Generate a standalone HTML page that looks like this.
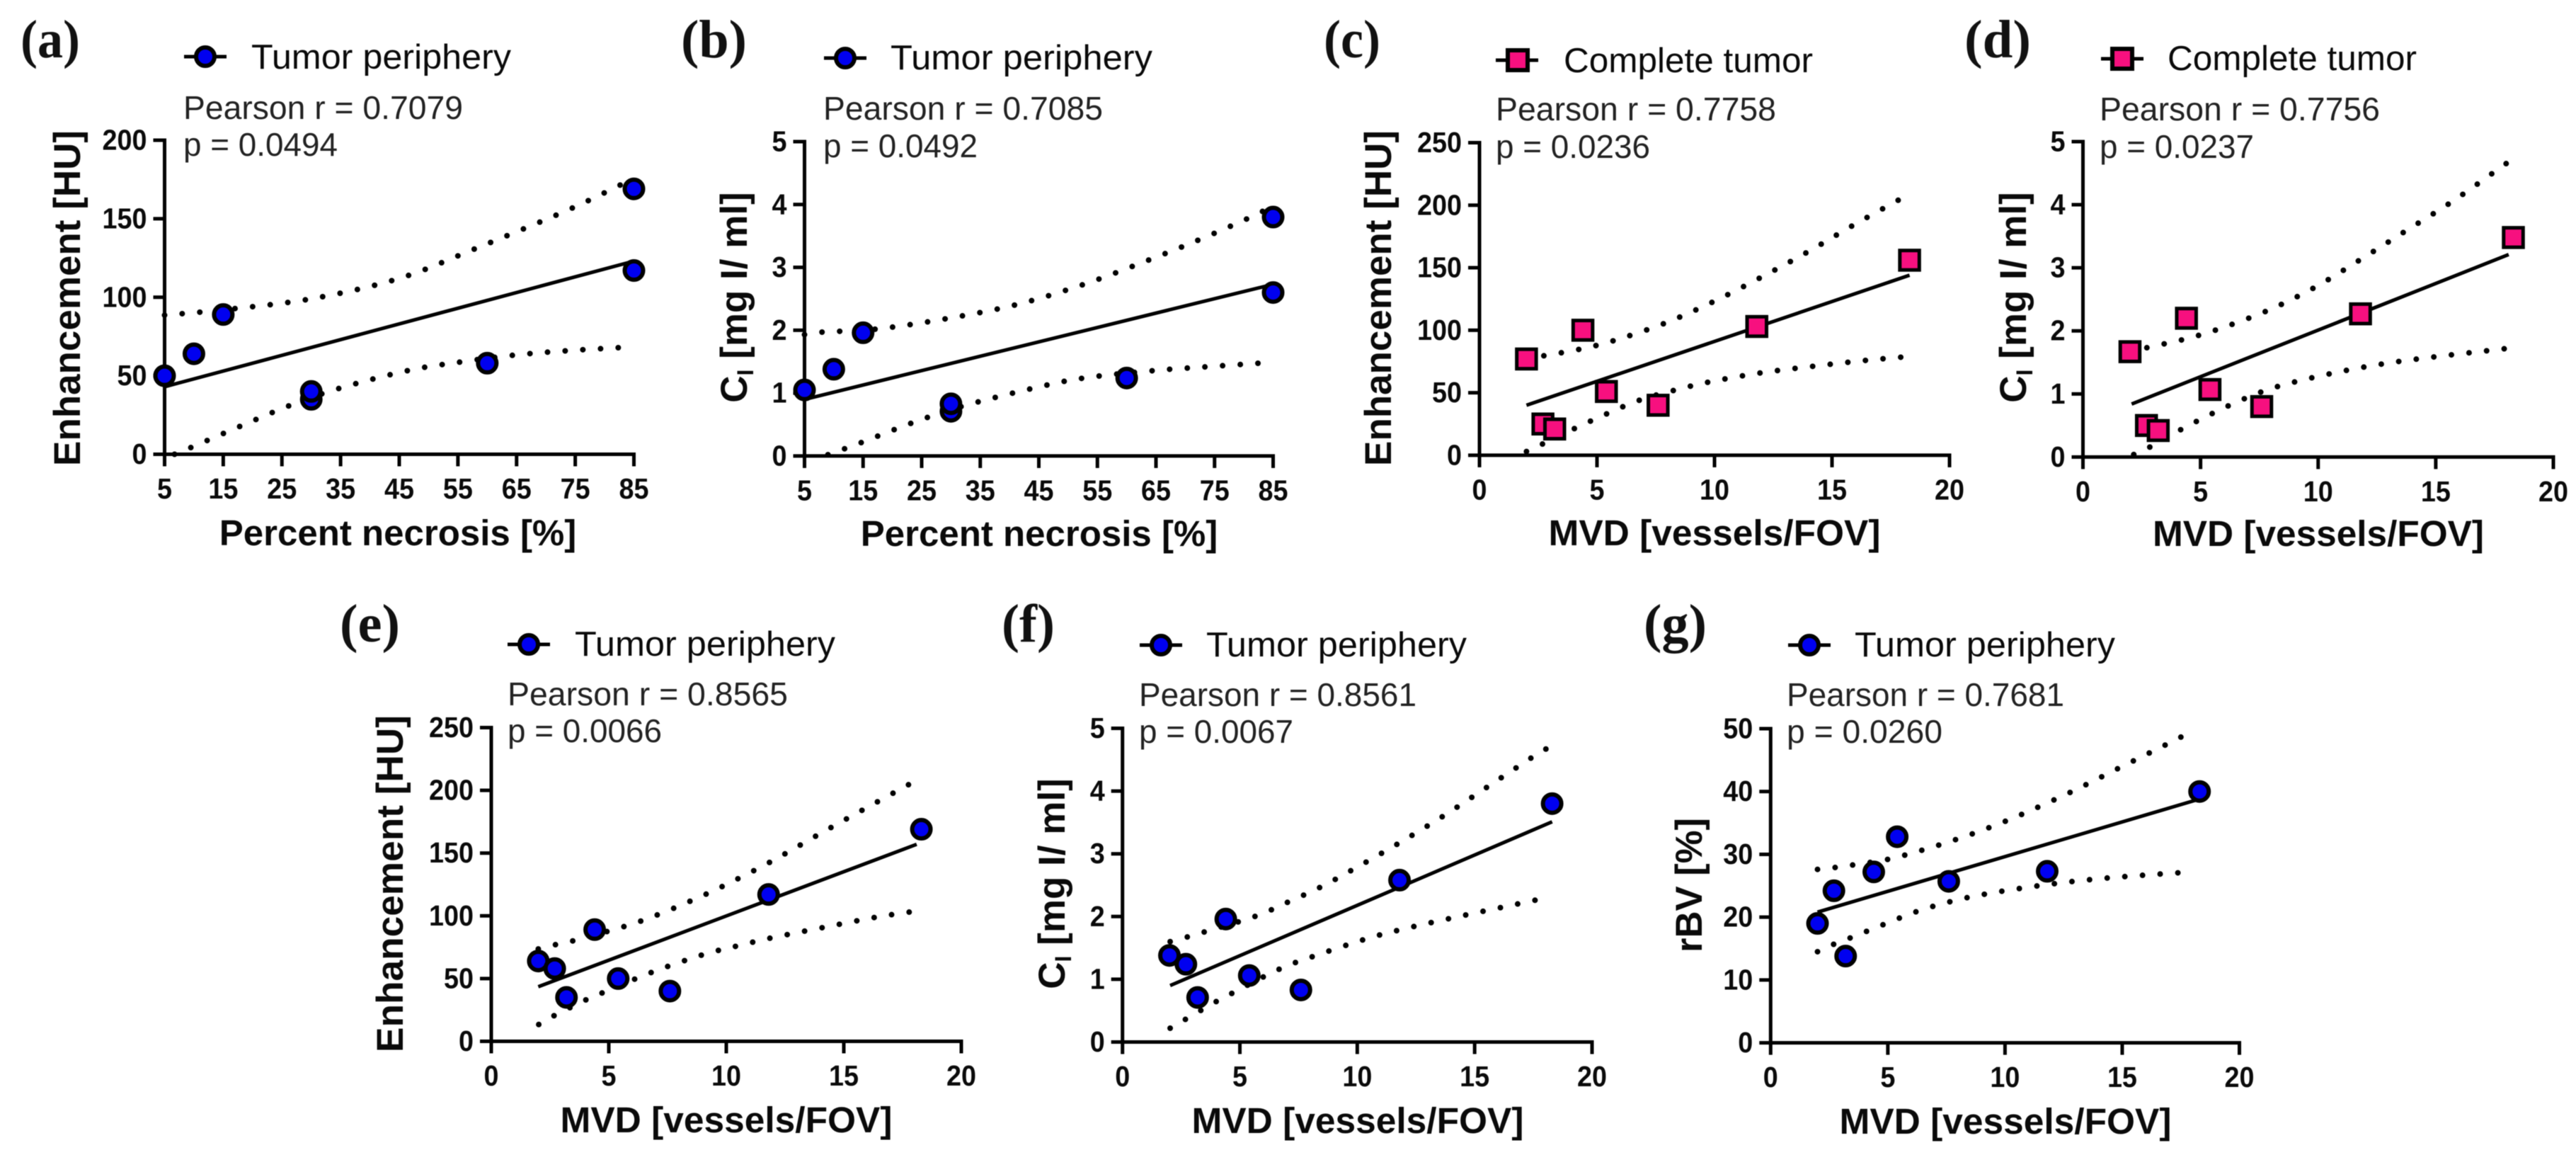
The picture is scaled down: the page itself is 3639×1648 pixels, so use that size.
<!DOCTYPE html>
<html lang="en">
<head>
<meta charset="utf-8">
<title>Correlation scatter plots of enhancement, iodine concentration and rBV</title>
<style>
html,body{margin:0;padding:0;background:#fff;width:3639px;height:1648px;overflow:hidden}
svg{display:block;filter:blur(0.6px)}
text{font-family:"Liberation Sans",sans-serif;fill:#0a0a0a}
.letter{font-family:"Liberation Serif",serif;font-weight:700;font-size:76px;fill:#111}
.legend{font-size:49px}
.stat{font-size:46px;fill:#222}
.xtitle{font-size:51px;font-weight:700;text-anchor:middle}
.ytitle{font-size:53px;font-weight:700;text-anchor:middle}
.tick{font-size:41px;font-weight:700}
</style>
</head>
<body>
<svg id="figure" xmlns="http://www.w3.org/2000/svg" width="3639" height="1648" viewBox="0 0 3639 1648">
<rect x="0" y="0" width="3639" height="1648" fill="#fff"/>

<g id="panel-a">
<text class="letter" x="29" y="81" textLength="84" lengthAdjust="spacingAndGlyphs">(a)</text>
<line x1="260" y1="80" x2="320" y2="80" stroke="#000" stroke-width="5"/>
<circle cx="290" cy="80" r="13" fill="#0000f0" stroke="#000" stroke-width="6"/>
<text class="legend" x="355" y="97" textLength="367" lengthAdjust="spacingAndGlyphs">Tumor periphery</text>
<text class="stat" x="259" y="168" textLength="395" lengthAdjust="spacingAndGlyphs">Pearson r = 0.7079</text>
<text class="stat" x="259" y="220" textLength="218" lengthAdjust="spacingAndGlyphs">p = 0.0494</text>
<text class="xtitle" x="562" y="770">Percent necrosis [%]</text>
<text class="ytitle" transform="translate(113 421) rotate(-90)" textLength="474" lengthAdjust="spacingAndGlyphs">Enhancement [HU]</text>
</g>

<g id="panel-b">
<text class="letter" x="962" y="81" textLength="93" lengthAdjust="spacingAndGlyphs">(b)</text>
<line x1="1164" y1="82" x2="1224" y2="82" stroke="#000" stroke-width="5"/>
<circle cx="1194" cy="82" r="13" fill="#0000f0" stroke="#000" stroke-width="6"/>
<text class="legend" x="1258" y="98" textLength="370" lengthAdjust="spacingAndGlyphs">Tumor periphery</text>
<text class="stat" x="1163" y="169" textLength="395" lengthAdjust="spacingAndGlyphs">Pearson r = 0.7085</text>
<text class="stat" x="1163" y="222" textLength="218" lengthAdjust="spacingAndGlyphs">p = 0.0492</text>
<text class="xtitle" x="1468" y="771">Percent necrosis [%]</text>
<text class="ytitle" transform="translate(1055 420) rotate(-90)">C<tspan font-size="32" dy="9">I</tspan><tspan dy="-9"> [mg I/ ml]</tspan></text>
</g>

<g id="panel-c">
<text class="letter" x="1870" y="81" textLength="80" lengthAdjust="spacingAndGlyphs">(c)</text>
<line x1="2113" y1="85" x2="2173" y2="85" stroke="#000" stroke-width="5"/>
<rect x="2130" y="71" width="28" height="28" fill="#f7107f" stroke="#000" stroke-width="6"/>
<text class="legend" x="2209" y="102" textLength="352" lengthAdjust="spacingAndGlyphs">Complete tumor</text>
<text class="stat" x="2113" y="170" textLength="396" lengthAdjust="spacingAndGlyphs">Pearson r = 0.7758</text>
<text class="stat" x="2113" y="223" textLength="218" lengthAdjust="spacingAndGlyphs">p = 0.0236</text>
<text class="xtitle" x="2422" y="770" textLength="469" lengthAdjust="spacingAndGlyphs">MVD [vessels/FOV]</text>
<text class="ytitle" transform="translate(1965 421) rotate(-90)" textLength="474" lengthAdjust="spacingAndGlyphs">Enhancement [HU]</text>
</g>

<g id="panel-d">
<text class="letter" x="2775" y="81" textLength="94" lengthAdjust="spacingAndGlyphs">(d)</text>
<line x1="2968" y1="83" x2="3028" y2="83" stroke="#000" stroke-width="5"/>
<rect x="2984" y="69" width="28" height="28" fill="#f7107f" stroke="#000" stroke-width="6"/>
<text class="legend" x="3062" y="99" textLength="352" lengthAdjust="spacingAndGlyphs">Complete tumor</text>
<text class="stat" x="2966" y="170" textLength="396" lengthAdjust="spacingAndGlyphs">Pearson r = 0.7756</text>
<text class="stat" x="2966" y="223" textLength="218" lengthAdjust="spacingAndGlyphs">p = 0.0237</text>
<text class="xtitle" x="3275" y="771" textLength="468" lengthAdjust="spacingAndGlyphs">MVD [vessels/FOV]</text>
<text class="ytitle" transform="translate(2862 420) rotate(-90)">C<tspan font-size="32" dy="9">I</tspan><tspan dy="-9"> [mg I/ ml]</tspan></text>
</g>

<g id="panel-e">
<text class="letter" x="480" y="906" textLength="85" lengthAdjust="spacingAndGlyphs">(e)</text>
<line x1="717" y1="910" x2="777" y2="910" stroke="#000" stroke-width="5"/>
<circle cx="747" cy="910" r="13" fill="#0000f0" stroke="#000" stroke-width="6"/>
<text class="legend" x="812" y="926" textLength="368" lengthAdjust="spacingAndGlyphs">Tumor periphery</text>
<text class="stat" x="717" y="996" textLength="396" lengthAdjust="spacingAndGlyphs">Pearson r = 0.8565</text>
<text class="stat" x="717" y="1048" textLength="218" lengthAdjust="spacingAndGlyphs">p = 0.0066</text>
<text class="xtitle" x="1026" y="1599" textLength="469" lengthAdjust="spacingAndGlyphs">MVD [vessels/FOV]</text>
<text class="ytitle" transform="translate(569 1248) rotate(-90)" textLength="476" lengthAdjust="spacingAndGlyphs">Enhancement [HU]</text>
</g>

<g id="panel-f">
<text class="letter" x="1415" y="906" textLength="75" lengthAdjust="spacingAndGlyphs">(f)</text>
<line x1="1610" y1="911" x2="1670" y2="911" stroke="#000" stroke-width="5"/>
<circle cx="1640" cy="911" r="13" fill="#0000f0" stroke="#000" stroke-width="6"/>
<text class="legend" x="1704" y="927" textLength="368" lengthAdjust="spacingAndGlyphs">Tumor periphery</text>
<text class="stat" x="1609" y="997" textLength="392" lengthAdjust="spacingAndGlyphs">Pearson r = 0.8561</text>
<text class="stat" x="1609" y="1049" textLength="218" lengthAdjust="spacingAndGlyphs">p = 0.0067</text>
<text class="xtitle" x="1918" y="1600" textLength="469" lengthAdjust="spacingAndGlyphs">MVD [vessels/FOV]</text>
<text class="ytitle" transform="translate(1504 1248) rotate(-90)">C<tspan font-size="32" dy="9">I</tspan><tspan dy="-9"> [mg I/ ml]</tspan></text>
</g>

<g id="panel-g">
<text class="letter" x="2322" y="906" textLength="89" lengthAdjust="spacingAndGlyphs">(g)</text>
<line x1="2526" y1="911" x2="2586" y2="911" stroke="#000" stroke-width="5"/>
<circle cx="2556" cy="911" r="13" fill="#0000f0" stroke="#000" stroke-width="6"/>
<text class="legend" x="2620" y="927" textLength="368" lengthAdjust="spacingAndGlyphs">Tumor periphery</text>
<text class="stat" x="2524" y="997" textLength="392" lengthAdjust="spacingAndGlyphs">Pearson r = 0.7681</text>
<text class="stat" x="2524" y="1049" textLength="220" lengthAdjust="spacingAndGlyphs">p = 0.0260</text>
<text class="xtitle" x="2833" y="1601" textLength="469" lengthAdjust="spacingAndGlyphs">MVD [vessels/FOV]</text>
<text class="ytitle" transform="translate(2404 1250) rotate(-90)" textLength="190" lengthAdjust="spacingAndGlyphs">rBV [%]</text>
</g>
</svg>

<script>
// Shared categories and tick labels
var necrosisValues = [5, 10, 15, 30, 30, 60, 85, 85];
var mvdValues = [2, 2.7, 3.2, 4.4, 5.4, 7.6, 11.8, 18.3];
var necrosisTicks = [5, 15, 25, 35, 45, 55, 65, 75, 85];
var mvdTicks = [0, 5, 10, 15, 20];
var enhancement200Ticks = [0, 50, 100, 150, 200];
var enhancement250Ticks = [0, 50, 100, 150, 200, 250];
var iodineTicks = [0, 1, 2, 3, 4, 5];
var rbvTicks = [0, 10, 20, 30, 40, 50];

// Panel (a)
var aPoints = [50, 64, 89, 35, 40, 58, 169, 117];
var aFitX = [5, 85];
var aFitY = [43, 123];
var aUpperX = [5, 15, 30, 45, 58, 72.5, 80.8, 85];
var aUpperY = [88.6, 92, 99, 112, 131, 153.5, 168, 176];
var aLowerX = [6.7, 9.3, 17.8, 26.3, 34.8, 46.6, 55.9, 65, 73.9, 82.9, 85];
var aLowerY = [0, 4, 17.7, 31, 42, 53.4, 59, 63.3, 66, 68, 68.5];

// Panel (b)
var bPoints = [1.05, 1.38, 1.96, 0.71, 0.83, 1.24, 3.8, 2.6];
var bFitX = [5, 85];
var bFitY = [0.9, 2.73];
var bUpperX = [5, 8, 17.4, 29.3, 41.3, 53, 64.4, 72.9, 81.2, 85];
var bUpperY = [1.93, 1.97, 2.02, 2.185, 2.41, 2.74, 3.14, 3.46, 3.8, 3.98];
var bLowerX = [9, 14.6, 23.2, 31.9, 43.7, 52.7, 64.9, 73.9, 83.3, 85];
var bLowerY = [0.02, 0.21, 0.52, 0.79, 1.07, 1.24, 1.36, 1.42, 1.48, 1.49];

// Panel (c)
var cPoints = [77, 25, 21, 100, 51, 40, 103, 156];
var cFitX = [2, 18.3];
var cFitY = [40, 144];
var cUpperX = [2, 2.72, 4.24, 5.7, 7.87, 9.95, 12, 14, 16, 18.3];
var cUpperY = [77, 79.5, 84.7, 91.6, 105.5, 122.8, 142.5, 163, 185, 209];
var cLowerX = [2, 2.65, 4, 5.4, 6.8, 8.3, 9.8, 12, 14.3, 16.5, 18.3];
var cLowerY = [3, 8.7, 21, 33, 44, 52, 58.7, 66, 71.4, 76, 79];

// Panel (d)
var dPoints = [1.67, 0.5, 0.42, 2.2, 1.07, 0.8, 2.27, 3.48];
var dFitX = [2.07, 18.1];
var dFitY = [0.84, 3.21];
var dUpperX = [2, 2.74, 4.23, 5.7, 7.84, 9.86, 11.84, 13.75, 15.7, 17.57, 18.1];
var dUpperY = [1.65, 1.735, 1.86, 2.02, 2.32, 2.69, 3.14, 3.59, 4.05, 4.54, 4.68];
var dLowerX = [2.16, 2.83, 4.14, 5.5, 6.9, 8.3, 10.5, 12.8, 15, 17.3, 18];
var dLowerY = [0.04, 0.155, 0.43, 0.69, 0.93, 1.12, 1.32, 1.48, 1.59, 1.69, 1.72];

// Panel (e)
var ePoints = [64, 58, 35, 89, 50, 40, 117, 169];
var eFitX = [2, 18.1];
var eFitY = [43.5, 157];
var eUpperX = [2, 2.73, 3.46, 5.66, 7.1, 8.5, 9.9, 11.94, 13.9, 15.9, 17.9];
var eUpperY = [73.6, 77, 80, 91.5, 101, 112, 124, 143.6, 164.5, 185.4, 206];
var eLowerX = [2.02, 2.63, 4, 4.7, 6.83, 9, 10.47, 11.94, 14.2, 16.4, 17.94];
var eLowerY = [13.4, 20, 32.8, 38.4, 55, 69, 76, 82.5, 91, 99, 103.4];

// Panel (f)
var fPoints = [1.38, 1.24, 0.71, 1.96, 1.06, 0.83, 2.58, 3.8];
var fFitX = [2.03, 18.3];
var fFitY = [0.9, 3.51];
var fUpperX = [2.03, 2.72, 3.45, 5.63, 7.05, 8.44, 9.77, 11.73, 13.7, 15.6, 17.5, 18.18];
var fUpperY = [1.6, 1.67, 1.75, 2, 2.23, 2.47, 2.74, 3.16, 3.61, 4.08, 4.55, 4.7];
var fLowerX = [2.03, 2.63, 3.97, 4.63, 6.67, 8.09, 10.26, 11.73, 13.95, 16.2, 17.7];
var fLowerY = [0.22, 0.35, 0.64, 0.77, 1.16, 1.36, 1.63, 1.78, 1.97, 2.15, 2.27];

// Panel (g)
var gPoints = [19, 24.2, 13.8, 27.2, 32.8, 25.7, 27.3, 40];
var gFitX = [2, 18.3];
var gFitY = [20.8, 38.8];
var gUpperX = [2, 2.74, 3.5, 5, 6.5, 7.94, 9.36, 10.8, 12.86, 14.9, 17, 17.68];
var gUpperY = [27.6, 27.9, 28.3, 29.2, 30.7, 32.4, 34.3, 36.5, 40, 43.8, 47.7, 49];
var gLowerX = [2, 2.7, 3.4, 4.8, 6.24, 7.7, 9.2, 11.44, 13.7, 16, 17.56];
var gLowerY = [14.5, 15.7, 16.7, 18.8, 20.9, 22.5, 23.7, 25, 26, 26.7, 27.1];

var SVG_NS = 'http://www.w3.org/2000/svg';

function make(tag, attrs) {
  var node = document.createElementNS(SVG_NS, tag);
  for (var key in attrs) { node.setAttribute(key, attrs[key]); }
  return node;
}

function linearAxis(domain, range) {
  var d0 = domain[0], d1 = domain[domain.length - 1];
  return function (v) { return range[0] + (v - d0) / (d1 - d0) * (range[1] - range[0]); };
}

function smoothPath(pts) {
  var d = 'M' + pts[0][0] + ' ' + pts[0][1];
  for (var i = 0; i < pts.length - 1; i++) {
    var p0 = pts[Math.max(i - 1, 0)], p1 = pts[i], p2 = pts[i + 1], p3 = pts[Math.min(i + 2, pts.length - 1)];
    var c1x = p1[0] + (p2[0] - p0[0]) / 6, c1y = p1[1] + (p2[1] - p0[1]) / 6;
    var c2x = p2[0] - (p3[0] - p1[0]) / 6, c2y = p2[1] - (p3[1] - p1[1]) / 6;
    d += 'C' + c1x + ' ' + c1y + ' ' + c2x + ' ' + c2y + ' ' + p2[0] + ' ' + p2[1];
  }
  return d;
}

function zipPoints(xs, ys, sx, sy) {
  return xs.map(function (x, i) { return [sx(x), sy(ys[i])]; });
}

function drawPanel(id, box, xTicks, yTicks, xs, ys, fitX, fitY, upX, upY, loX, loY, square) {
  var g = document.getElementById('panel-' + id);
  var sx = linearAxis(xTicks, [box.x0, box.x1]);
  var sy = linearAxis(yTicks, [box.y0, box.y1]);

  var fit = make('line', { x1: sx(fitX[0]), y1: sy(fitY[0]), x2: sx(fitX[1]), y2: sy(fitY[1]), stroke: '#000', 'stroke-width': 5 });
  
  
  g.appendChild(fit);

  var bandStyle = { fill: 'none', stroke: '#000', 'stroke-width': 8, 'stroke-linecap': 'round', 'stroke-dasharray': '0 25' };
  bandStyle.d = smoothPath(zipPoints(upX, upY, sx, sy));
  var upper = make('path', bandStyle);
  
  
  g.appendChild(upper);

  bandStyle.d = smoothPath(zipPoints(loX, loY, sx, sy));
  var lower = make('path', bandStyle);
  
  
  g.appendChild(lower);

  var yAxis = make('line', { x1: box.x0, y1: box.y1 - 2.5, x2: box.x0, y2: box.y0 + 2.5, stroke: '#000', 'stroke-width': 5 });
  
  
  g.appendChild(yAxis);

  var xAxis = make('line', { x1: box.x0 - 2.5, y1: box.y0, x2: box.x1 + 2.5, y2: box.y0, stroke: '#000', 'stroke-width': 5 });
  
  
  g.appendChild(xAxis);

  yTicks.forEach(function (t) {
    var y = sy(t);
    var tick = make('line', { x1: box.x0 - 16, y1: y, x2: box.x0, y2: y, stroke: '#000', 'stroke-width': 5 });
    
    
    g.appendChild(tick);
    var label = make('text', { class: 'tick', x: box.x0 - 25, y: y + 13.5, 'text-anchor': 'end', textLength: String(t).length * 21, lengthAdjust: 'spacingAndGlyphs' });
    
    
    label.textContent = t;
    g.appendChild(label);
  });

  xTicks.forEach(function (t) {
    var x = sx(t);
    var tick = make('line', { x1: x, y1: box.y0, x2: x, y2: box.y0 + 17, stroke: '#000', 'stroke-width': 5 });
    
    
    g.appendChild(tick);
    var label = make('text', { class: 'tick', x: x, y: box.y0 + 62.5, 'text-anchor': 'middle', textLength: String(t).length * 21, lengthAdjust: 'spacingAndGlyphs' });
    
    
    label.textContent = t;
    g.appendChild(label);
  });

  xs.forEach(function (x, i) {
    var mark;
    if (square) {
      mark = make('rect', { x: sx(x) - 13.75, y: sy(ys[i]) - 13.75, width: 27.5, height: 27.5, fill: '#f7107f', stroke: '#000', 'stroke-width': 5 });
    } else {
      mark = make('circle', { cx: sx(x), cy: sy(ys[i]), r: 13, fill: '#0000f0', stroke: '#000', 'stroke-width': 6 });
    }
    
    
    g.appendChild(mark);
  });
}

drawPanel('a', { x0: 232.5, x1: 895.5, y0: 641.5, y1: 198 }, necrosisTicks, enhancement200Ticks, necrosisValues, aPoints, aFitX, aFitY, aUpperX, aUpperY, aLowerX, aLowerY, false);
drawPanel('b', { x0: 1136.5, x1: 1798.5, y0: 643.9, y1: 200 }, necrosisTicks, iodineTicks, necrosisValues, bPoints, bFitX, bFitY, bUpperX, bUpperY, bLowerX, bLowerY, false);
drawPanel('c', { x0: 2090, x1: 2754, y0: 642.9, y1: 201.5 }, mvdTicks, enhancement250Ticks, mvdValues, cPoints, cFitX, cFitY, cUpperX, cUpperY, cLowerX, cLowerY, true);
drawPanel('d', { x0: 2942.5, x1: 3607, y0: 645.4, y1: 200 }, mvdTicks, iodineTicks, mvdValues, dPoints, dFitX, dFitY, dUpperX, dUpperY, dLowerX, dLowerY, true);
drawPanel('e', { x0: 694, x1: 1358, y0: 1470.5, y1: 1027.5 }, mvdTicks, enhancement250Ticks, mvdValues, ePoints, eFitX, eFitY, eUpperX, eUpperY, eLowerX, eLowerY, false);
drawPanel('f', { x0: 1585.7, x1: 2249, y0: 1471.5, y1: 1028.5 }, mvdTicks, iodineTicks, mvdValues, fPoints, fFitX, fFitY, fUpperX, fUpperY, fLowerX, fLowerY, false);
drawPanel('g', { x0: 2501.3, x1: 3163.5, y0: 1472.6, y1: 1029 }, mvdTicks, rbvTicks, mvdValues, gPoints, gFitX, gFitY, gUpperX, gUpperY, gLowerX, gLowerY, false);
</script>
</body>
</html>
